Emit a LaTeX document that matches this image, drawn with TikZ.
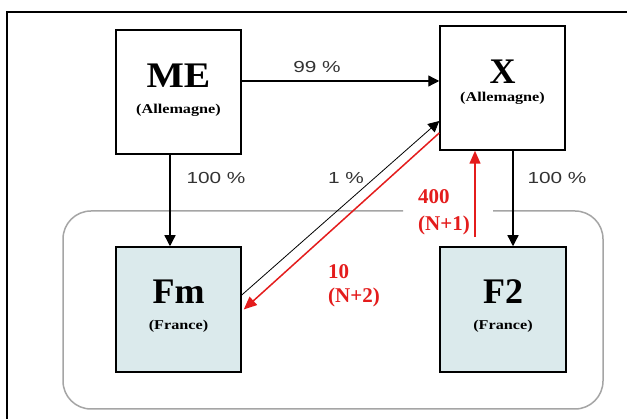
\documentclass[tikz,border=0pt]{standalone}
\usepackage{fontspec}
\setmainfont{Liberation Serif}
\newfontfamily\sansf{Liberation Sans}
\usetikzlibrary{arrows.meta}
\definecolor{boxfill}{RGB}{219,234,236}
\definecolor{redline}{RGB}{228,28,28}
\definecolor{framegray}{RGB}{165,165,165}
\newcommand\hstretch[2]{\scalebox{#1}[1]{#2}}
\begin{document}
\begin{tikzpicture}[x=1pt,y=-1pt,
 box/.style={draw=black,line width=1.5pt,minimum width=125pt,minimum height=124pt,inner sep=0pt},
 fbox/.style={box,fill=boxfill,minimum height=125pt},
 big/.style={font=\bfseries\fontsize{36}{40}\selectfont,inner sep=0pt},
 sub/.style={font=\bfseries\fontsize{13.5}{15}\selectfont,inner sep=0pt},
 pct/.style={font=\sansf\fontsize{16}{18}\selectfont,text=black!80,inner sep=0pt},
 rlab/.style={font=\bfseries\fontsize{21}{25}\selectfont,text=redline,inner sep=0pt,anchor=west},
 arr/.style={line width=1.3pt,-{Triangle[length=11pt,width=11pt]}},
 rarr/.style={line width=1.5pt,draw=redline,-{Triangle[length=13pt,width=11pt]}},
]
\useasboundingbox (0,0) rectangle (627,419);
\fill[white] (0,0) rectangle (627,419);
\draw[line width=1.5pt] (7,430) -- (7,12) -- (640,12);
\draw[framegray,line width=1.5pt,rounded corners=28pt] (403,211) -- (63,211) -- (63,409) -- (603,409) -- (603,211) -- (493,211);

\node[box] (me) at (178.5,92) {};
\node[box] (xb) at (502.5,88) {};
\node[fbox] (fm) at (178.5,309.5) {};
\node[fbox,minimum width=126pt] (f2) at (503,309.5) {};

\node[big] (met) at (178.5,76) {\hstretch{1.1}{ME}};
\node[sub] (mes) at (178.5,110) {\hstretch{1.2}{(Allemagne)}};
\node[big] (xt) at (502.5,72) {X};
\node[sub] (xs) at (502.5,98) {\hstretch{1.2}{(Allemagne)}};
\node[big] (fmt) at (178.5,292) {Fm};
\node[sub] (fms) at (178.5,326) {\hstretch{1.2}{(France)}};
\node[big] (f2t) at (503,292) {F2};
\node[sub] (f2s) at (503,326) {\hstretch{1.2}{(France)}};

\node[pct] (p99) at (317,67) {\hstretch{1.3}{99 \%}};
\node[pct] (p100a) at (216,178) {\hstretch{1.3}{100 \%}};
\node[pct] (p100b) at (557,178) {\hstretch{1.3}{100 \%}};
\node[pct] (p1) at (346,178) {\hstretch{1.3}{1 \%}};

\node[rlab] (r400) at (418,197) {400};
\node[rlab] (rn1) at (418,225) {(N+1)};
\node[rlab] (r10) at (328,272) {10};
\node[rlab] (rn2) at (328,297) {(N+2)};

\draw[arr] ([yshift=11pt]me.east) -- ([yshift=7pt]xb.west);
\draw[arr] ([xshift=-8.5pt]me.south) -- ([xshift=-8.5pt]fm.north);
\draw[arr] ([xshift=10.5pt]xb.south) -- ([xshift=10pt]f2.north);
\draw[rarr] ([xshift=-28pt,yshift=9pt]f2.north) -- ([xshift=-27.5pt]xb.south);
\draw[arr,line width=0.8pt] ([yshift=14.5pt]fm.east) -- ([yshift=-33pt]xb.west);
\draw[rarr] ([yshift=-45pt]xb.west) -- ([xshift=2pt]fm.east);
\end{tikzpicture}
\end{document}
